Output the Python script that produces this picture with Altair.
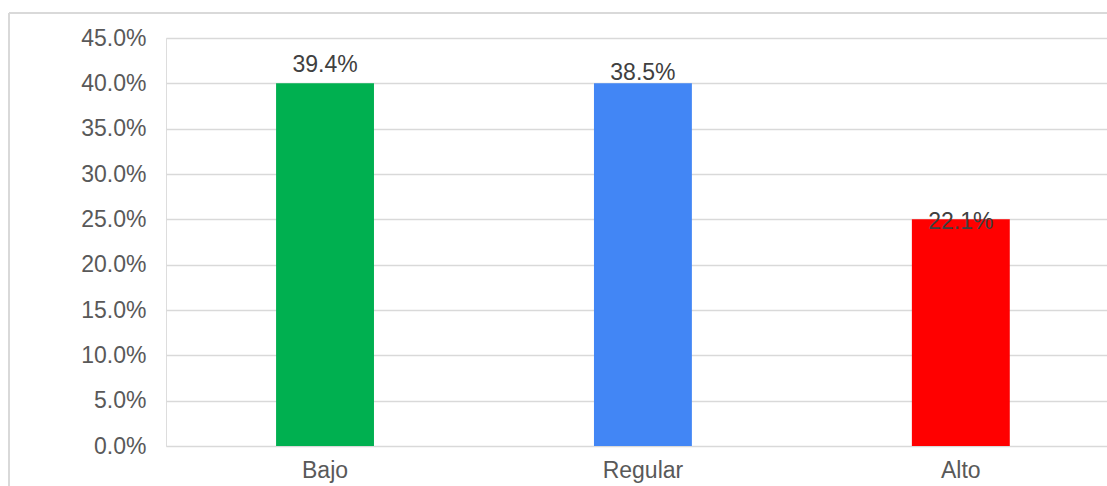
import altair as alt
import pandas as pd

categories = ["Bajo", "Regular", "Alto"]
bar_heights = [0.40, 0.40, 0.25]
label_values = [0.394, 0.385, 0.221]
label_texts = ["39.4%", "38.5%", "22.1%"]
colors = ["#00b050", "#4286f5", "#ff0000"]
y_ticks = [0.0, 0.05, 0.10, 0.15, 0.20, 0.25, 0.30, 0.35, 0.40, 0.45]

df = pd.DataFrame({
    "cat": categories,
    "h": bar_heights,
    "lv": label_values,
    "lt": label_texts,
    "col": colors,
})

FONT = "Liberation Sans"
FS = 23

x = alt.X("cat:N", sort=categories, title=None,
          scale=alt.Scale(paddingInner=0.692, paddingOuter=0.326, align=0.531),
          axis=alt.Axis(labelAngle=0, ticks=False, domain=False, grid=False,
                        labelFont=FONT, labelFontSize=FS, labelColor="#595959",
                        labelPadding=13))

bars = alt.Chart(df).mark_bar().encode(
    x=x,
    y=alt.Y("h:Q", title=None,
            scale=alt.Scale(domain=[0, 0.45], nice=False),
            axis=alt.Axis(values=y_ticks, format=".1%", ticks=False, domain=False,
                          grid=True, gridColor="#d9d9d9", gridWidth=1.5,
                          labelFont=FONT, labelFontSize=FS, labelColor="#595959",
                          labelPadding=20)),
    color=alt.Color("col:N", scale=None),
)

labels = alt.Chart(df).mark_text(
    font=FONT, fontSize=FS, color="#404040", baseline="alphabetic", dy=-17
).encode(
    x=alt.X("cat:N", sort=categories),
    y=alt.Y("lv:Q"),
    text="lt:N",
)

border_left = alt.Chart(df).mark_rule(color="#d9d9d9", strokeWidth=1.5).encode(
    x=alt.value(-157), y=alt.value(-25), y2=alt.value(520)
)
border_top = alt.Chart(df).mark_rule(color="#d9d9d9", strokeWidth=1.5).encode(
    x=alt.value(-157), x2=alt.value(1000), y=alt.value(-25)
)

chart = alt.layer(border_left, border_top, bars, labels).properties(
    width=941, height=408,
    autosize=alt.AutoSizeParams(type="none"),
    padding={"left": 166, "top": 38, "right": 0, "bottom": 40},
).configure_view(stroke=None).configure(background="white")

chart.save("out.html", embed_options={"renderer": "svg", "actions": False})
